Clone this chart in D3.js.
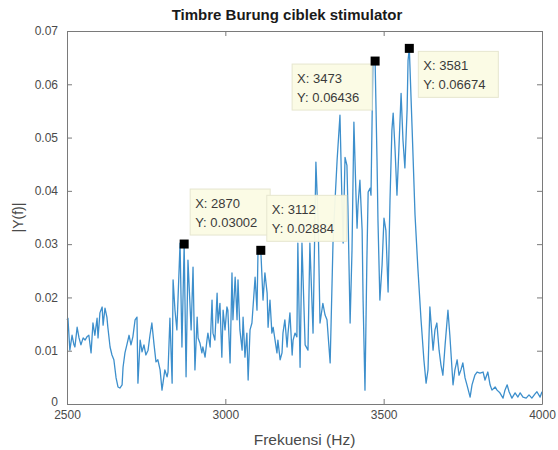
<!DOCTYPE html>
<html>
<head>
<meta charset="utf-8">
<script src="https://cdn.jsdelivr.net/npm/d3@7"></script>
<style>
  html, body { margin: 0; padding: 0; background: #fff; }
  svg { display: block; font-family: "Liberation Sans", Arial, Helvetica, sans-serif; }
</style>
</head>
<body>
<svg id="chart" width="558" height="450"></svg>
<script>
// Amplitude spectrum |Y(f)| of the stimulator recording, 2500–4000 Hz
const freqHz = [
  2500,2503,2509,2516,2522,2525,2532,2538,2544,2551,2557,2563,2569,2576,2582,2588,2595,2598,2604,2611,
  2614,2620,2626,2629,2636,2642,2648,2655,2661,2667,2674,2677,2683,2689,2696,2702,2708,2715,2721,2724,
  2731,2737,2743,2749,2756,2762,2768,2775,2781,2787,2794,2800,2809,2816,2819,2825,2832,2835,2841,2847,
  2857,2863,2870,2876,2882,2892,2898,2904,2911,2914,2920,2926,2929,2936,2942,2945,2952,2958,2961,2967,
  2974,2977,2983,2989,2993,2999,3005,3008,3015,3021,3024,3031,3037,3040,3046,3053,3056,3062,3068,3072,
  3078,3084,3094,3100,3103,3112,3119,3125,3132,3135,3141,3147,3151,3157,3163,3166,3173,3179,3182,3188,
  3195,3198,3204,3211,3214,3220,3226,3229,3236,3242,3252,3261,3267,3277,3286,3293,3299,3308,3315,3321,
  3331,3340,3346,3353,3362,3368,3372,3378,3384,3387,3394,3400,3406,3413,3416,3419,3425,3432,3435,3441,
  3447,3451,3457,3460,3466,3473,3479,3482,3488,3495,3501,3507,3514,3520,3526,3530,3536,3542,3548,3555,
  3561,3567,3574,3577,3581,3590,3599,3608,3618,3627,3634,3640,3646,3656,3662,3668,3675,3681,3687,3694,
  3703,3709,3719,3725,3732,3738,3744,3750,3757,3763,3773,3779,3788,3795,3804,3814,3820,3829,3836,3842,
  3852,3858,3867,3877,3883,3890,3896,3905,3915,3924,3931,3940,3950,3959,3968,3978,3984,3994,4000
];
const magnitude = [
  .0158,.0161,.0101,.0129,.0111,.0107,.0144,.0124,.0111,.0124,.0120,.0126,.0129,.0096,.0152,.0129,.0161,.0124,.0171,.0182,
  .0148,.0180,.0163,.0144,.0107,.0092,.0083,.0049,.0032,.0030,.0036,.0069,.0096,.0111,.0129,.0111,.0126,.0158,.0163,.0039,
  .0120,.0098,.0111,.0092,.0101,.0129,.0152,.0111,.0079,.0083,.0064,.0026,.0064,.0051,.0060,.0161,.0039,.0233,.0176,.0139,
  .0302,.0107,.03002,.0051,.0270,.0139,.0257,.0064,.0163,.0124,.0114,.0096,.0107,.0088,.0120,.0133,.0107,.0195,.0133,.0120,
  .0208,.0152,.0189,.0088,.0176,.0139,.0182,.0176,.0077,.0246,.0158,.0238,.0158,.0233,.0139,.0101,.0163,.0088,.0133,.0045,
  .0139,.0152,.0238,.0176,.0280,.02884,.0195,.0246,.0208,.0144,.0195,.0133,.0144,.0120,.0096,.0120,.0083,.0096,.0133,.0158,
  .0107,.0133,.0171,.0092,.0120,.0133,.0126,.0302,.0069,.0302,.0111,.0101,.0302,.0133,.0454,.0345,.0152,.0189,.0167,.0158,
  .0077,.0302,.0377,.0458,.0542,.0388,.0302,.0463,.0448,.0373,.0152,.0288,.0529,.0383,.0330,.0373,.0420,.0326,.0195,.0026,
  .0270,.0398,.0405,.0392,.0640,.06436,.0458,.0345,.0195,.0261,.0349,.0326,.0210,.0383,.0514,.0546,.0477,.0392,.0477,.0583,
  .0495,.0443,.0552,.0645,.06674,.0514,.0355,.0255,.0158,.0083,.0039,.0064,.0182,.0101,.0139,.0152,.0101,.0073,.0054,.0111,
  .0176,.0129,.0036,.0064,.0083,.0054,.0064,.0077,.0049,.0036,.0013,.0036,.0054,.0060,.0058,.0060,.0045,.0060,.0036,.0026,
  .0032,.0026,.0021,.0011,.0026,.0036,.0023,.0011,.0021,.0013,.0021,.0013,.0011,.0017,.0011,.0019,.0023,.0013,.0023
];

// Data tips placed on the spectrum peaks
const tipX = [2870, 3112, 3473, 3581];
const tipY = [0.03002, 0.02884, 0.06436, 0.06674];
const tipSide = ["up", "up", "downleft", "down"];

const xTicks = [2500, 3000, 3500, 4000];
const yTicks = [0, 0.01, 0.02, 0.03, 0.04, 0.05, 0.06, 0.07];

const titleText = "Timbre Burung ciblek stimulator";
const xLabel = "Frekuensi (Hz)";
const yLabel = "|Y(f)|";

const W = 558, H = 450;
const m = { left: 67, right: 16, top: 31, bottom: 46 };
const iw = W - m.left - m.right, ih = H - m.top - m.bottom;

const svg = d3.select("#chart");
const g = svg.append("g").attr("transform", `translate(${m.left},${m.top})`);

const x = d3.scaleLinear().domain([2500, 4000]).range([0, iw]);
const y = d3.scaleLinear().domain([0, 0.07]).range([ih, 0]);

const axisColor = "#7a7a7a";
const textColor = "#4a4a4a";

// Spectrum line
const series = freqHz.map((f, i) => [f, magnitude[i]]);
g.append("path")
  .datum(series)
  .attr("fill", "none")
  .attr("stroke", "#3d8fcc")
  .attr("stroke-width", 1.3)
  .attr("stroke-linejoin", "round")
  .attr("d", d3.line().x(d => x(d[0])).y(d => y(d[1])));

// Axes box with inward ticks on all sides
function styleAxis(sel) {
  sel.select(".domain").attr("stroke", axisColor).attr("stroke-width", 1);
  sel.selectAll(".tick line").attr("stroke", axisColor);
  sel.selectAll(".tick text").attr("fill", textColor).style("font-size", "12px");
}
const fmtY = d => d === 0 ? "0" : d3.format(".2f")(d);

g.append("g").attr("transform", `translate(0,${ih})`)
  .call(d3.axisBottom(x).tickValues(xTicks).tickFormat(d3.format("d")).tickSizeInner(-5).tickSizeOuter(0).tickPadding(6))
  .call(styleAxis);
g.append("g")
  .call(d3.axisTop(x).tickValues(xTicks).tickFormat("").tickSizeInner(-5).tickSizeOuter(0))
  .call(styleAxis);
const yAxisG = g.append("g")
  .call(d3.axisLeft(y).tickValues(yTicks).tickFormat(fmtY).tickSizeInner(-5).tickSizeOuter(0).tickPadding(9))
  .call(styleAxis);
// lift the zero label a little so it clears the first frequency label
yAxisG.selectAll(".tick text").filter(d => d === 0).attr("dy", "0.15em");
g.append("g").attr("transform", `translate(${iw},0)`)
  .call(d3.axisRight(y).tickValues(yTicks).tickFormat("").tickSizeInner(-5).tickSizeOuter(0))
  .call(styleAxis);

// Title and axis labels
svg.append("text")
  .attr("x", 287).attr("y", 20)
  .attr("text-anchor", "middle")
  .style("font-size", "15px").style("font-weight", "bold").attr("fill", "#1a1a1a")
  .text(titleText);
svg.append("text")
  .attr("x", m.left + iw / 2).attr("y", 445)
  .attr("text-anchor", "middle")
  .style("font-size", "15.5px").attr("fill", textColor)
  .text(xLabel);
svg.append("text")
  .attr("transform", `translate(23,${m.top + ih / 2}) rotate(-90)`)
  .attr("text-anchor", "middle")
  .style("font-size", "14px").attr("fill", textColor)
  .text(yLabel);

// Data tips: marker plus label box
const boxW = 80, boxH = 46;
const boxDx = { up: 6, down: 9, downleft: -83 };
const tips = g.selectAll(".tip").data(tipX.map((f, i) => ({ f, v: tipY[i], side: tipSide[i] })))
  .enter().append("g").attr("class", "tip");

tips.append("rect")
  .attr("x", d => x(d.f) + boxDx[d.side])
  .attr("y", d => y(d.v) + (d.side === "up" ? -55 : 3))
  .attr("width", boxW).attr("height", boxH)
  .attr("fill", "#fbfbe4").attr("fill-opacity", 0.95)
  .attr("stroke", "#e6e6cf").attr("stroke-width", 1);

tips.append("text")
  .attr("x", d => x(d.f) + boxDx[d.side] + 5)
  .attr("y", d => y(d.v) + (d.side === "up" ? -36 : 22))
  .style("font-size", "13px").attr("fill", "#3a3a3a")
  .text(d => "X: " + d.f);
tips.append("text")
  .attr("x", d => x(d.f) + boxDx[d.side] + 5)
  .attr("y", d => y(d.v) + (d.side === "up" ? -17 : 41))
  .style("font-size", "13px").attr("fill", "#3a3a3a")
  .text(d => "Y: " + d.v);

tips.append("rect")
  .attr("x", d => x(d.f) - 4.5).attr("y", d => y(d.v) - 4.5)
  .attr("width", 9).attr("height", 9)
  .attr("fill", "#000");
</script>
</body>
</html>
